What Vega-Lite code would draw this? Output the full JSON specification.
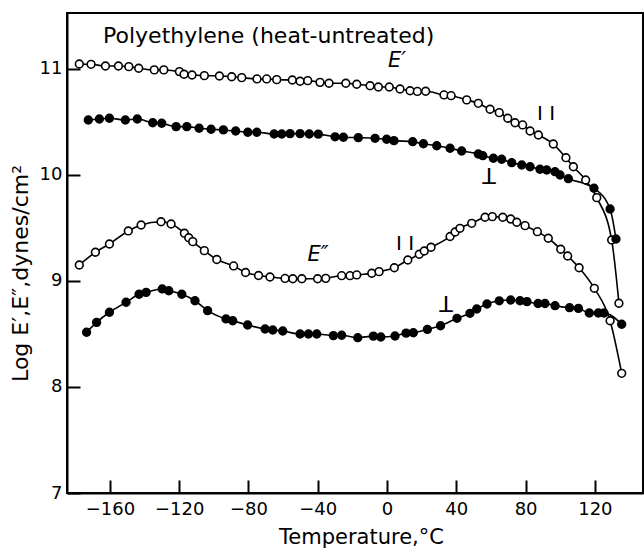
{
  "$schema": "https://vega.github.io/schema/vega-lite/v6.json",
  "width": 576,
  "height": 480,
  "autosize": {"type": "none"},
  "padding": {"left": 67, "top": 13, "right": 1, "bottom": 58},
  "background": "white",
  "config": {
    "font": "DejaVu Sans",
    "view": {"stroke": "black", "strokeWidth": 2},
    "axis": {
      "grid": false,
      "domainColor": "black",
      "domainWidth": 2,
      "tickColor": "black",
      "tickWidth": 2,
      "tickSize": -13,
      "labelColor": "black",
      "labelFontSize": 18,
      "titleColor": "black",
      "titleFontSize": 21,
      "titleFontWeight": "normal"
    }
  },
  "datasets": {
    "modulus": [
      {"curve": "E1 par", "orient": "par", "T": -177.7, "logE": 11.047},
      {"curve": "E1 par", "orient": "par", "T": -170.9, "logE": 11.044},
      {"curve": "E1 par", "orient": "par", "T": -162.6, "logE": 11.028},
      {"curve": "E1 par", "orient": "par", "T": -155.1, "logE": 11.028},
      {"curve": "E1 par", "orient": "par", "T": -149.1, "logE": 11.022},
      {"curve": "E1 par", "orient": "par", "T": -143.4, "logE": 11.007},
      {"curve": "E1 par", "orient": "par", "T": -134.4, "logE": 10.991},
      {"curve": "E1 par", "orient": "par", "T": -128.9, "logE": 10.991},
      {"curve": "E1 par", "orient": "par", "T": -119.9, "logE": 10.975},
      {"curve": "E1 par", "orient": "par", "T": -117.2, "logE": 10.95},
      {"curve": "E1 par", "orient": "par", "T": -112.6, "logE": 10.943},
      {"curve": "E1 par", "orient": "par", "T": -105.5, "logE": 10.937},
      {"curve": "E1 par", "orient": "par", "T": -96.8, "logE": 10.934},
      {"curve": "E1 par", "orient": "par", "T": -89.7, "logE": 10.927},
      {"curve": "E1 par", "orient": "par", "T": -83.9, "logE": 10.918},
      {"curve": "E1 par", "orient": "par", "T": -75.1, "logE": 10.906},
      {"curve": "E1 par", "orient": "par", "T": -69.5, "logE": 10.906},
      {"curve": "E1 par", "orient": "par", "T": -63.7, "logE": 10.899},
      {"curve": "E1 par", "orient": "par", "T": -54.7, "logE": 10.896},
      {"curve": "E1 par", "orient": "par", "T": -50.2, "logE": 10.884},
      {"curve": "E1 par", "orient": "par", "T": -45.8, "logE": 10.89},
      {"curve": "E1 par", "orient": "par", "T": -38.7, "logE": 10.874},
      {"curve": "E1 par", "orient": "par", "T": -33.5, "logE": 10.865},
      {"curve": "E1 par", "orient": "par", "T": -23.8, "logE": 10.865},
      {"curve": "E1 par", "orient": "par", "T": -17.5, "logE": 10.856},
      {"curve": "E1 par", "orient": "par", "T": -9.8, "logE": 10.842},
      {"curve": "E1 par", "orient": "par", "T": -5.0, "logE": 10.83},
      {"curve": "E1 par", "orient": "par", "T": 1.3, "logE": 10.83},
      {"curve": "E1 par", "orient": "par", "T": 7.5, "logE": 10.811},
      {"curve": "E1 par", "orient": "par", "T": 13.3, "logE": 10.795},
      {"curve": "E1 par", "orient": "par", "T": 17.5, "logE": 10.788},
      {"curve": "E1 par", "orient": "par", "T": 22.3, "logE": 10.79},
      {"curve": "E1 par", "orient": "par", "T": 32.9, "logE": 10.755},
      {"curve": "E1 par", "orient": "par", "T": 37.0, "logE": 10.748},
      {"curve": "E1 par", "orient": "par", "T": 46.0, "logE": 10.708},
      {"curve": "E1 par", "orient": "par", "T": 52.7, "logE": 10.676},
      {"curve": "E1 par", "orient": "par", "T": 59.5, "logE": 10.62},
      {"curve": "E1 par", "orient": "par", "T": 64.8, "logE": 10.588},
      {"curve": "E1 par", "orient": "par", "T": 69.7, "logE": 10.535},
      {"curve": "E1 par", "orient": "par", "T": 73.9, "logE": 10.493},
      {"curve": "E1 par", "orient": "par", "T": 78.3, "logE": 10.472},
      {"curve": "E1 par", "orient": "par", "T": 82.6, "logE": 10.415},
      {"curve": "E1 par", "orient": "par", "T": 87.4, "logE": 10.377},
      {"curve": "E1 par", "orient": "par", "T": 96.0, "logE": 10.292},
      {"curve": "E1 par", "orient": "par", "T": 103.3, "logE": 10.163},
      {"curve": "E1 par", "orient": "par", "T": 107.6, "logE": 10.078},
      {"curve": "E1 par", "orient": "par", "T": 114.7, "logE": 9.953},
      {"curve": "E1 par", "orient": "par", "T": 121.1, "logE": 9.786},
      {"curve": "E1 par", "orient": "par", "T": 129.7, "logE": 9.387},
      {"curve": "E1 par", "orient": "par", "T": 133.9, "logE": 8.79},

      {"curve": "E1 perp", "orient": "perp", "T": -172.5, "logE": 10.519},
      {"curve": "E1 perp", "orient": "perp", "T": -166.1, "logE": 10.528},
      {"curve": "E1 perp", "orient": "perp", "T": -160.3, "logE": 10.535},
      {"curve": "E1 perp", "orient": "perp", "T": -151.1, "logE": 10.519},
      {"curve": "E1 perp", "orient": "perp", "T": -144.2, "logE": 10.528},
      {"curve": "E1 perp", "orient": "perp", "T": -135.3, "logE": 10.493},
      {"curve": "E1 perp", "orient": "perp", "T": -130.1, "logE": 10.488},
      {"curve": "E1 perp", "orient": "perp", "T": -121.8, "logE": 10.456},
      {"curve": "E1 perp", "orient": "perp", "T": -115.6, "logE": 10.456},
      {"curve": "E1 perp", "orient": "perp", "T": -108.5, "logE": 10.441},
      {"curve": "E1 perp", "orient": "perp", "T": -101.6, "logE": 10.431},
      {"curve": "E1 perp", "orient": "perp", "T": -94.5, "logE": 10.425},
      {"curve": "E1 perp", "orient": "perp", "T": -87.4, "logE": 10.415},
      {"curve": "E1 perp", "orient": "perp", "T": -80.4, "logE": 10.403},
      {"curve": "E1 perp", "orient": "perp", "T": -75.2, "logE": 10.403},
      {"curve": "E1 perp", "orient": "perp", "T": -65.2, "logE": 10.387},
      {"curve": "E1 perp", "orient": "perp", "T": -60.8, "logE": 10.387},
      {"curve": "E1 perp", "orient": "perp", "T": -56.0, "logE": 10.39},
      {"curve": "E1 perp", "orient": "perp", "T": -50.2, "logE": 10.39},
      {"curve": "E1 perp", "orient": "perp", "T": -44.9, "logE": 10.387},
      {"curve": "E1 perp", "orient": "perp", "T": -39.7, "logE": 10.385},
      {"curve": "E1 perp", "orient": "perp", "T": -30.0, "logE": 10.36},
      {"curve": "E1 perp", "orient": "perp", "T": -25.2, "logE": 10.356},
      {"curve": "E1 perp", "orient": "perp", "T": -16.6, "logE": 10.352},
      {"curve": "E1 perp", "orient": "perp", "T": -6.9, "logE": 10.346},
      {"curve": "E1 perp", "orient": "perp", "T": -0.2, "logE": 10.337},
      {"curve": "E1 perp", "orient": "perp", "T": 4.0, "logE": 10.324},
      {"curve": "E1 perp", "orient": "perp", "T": 14.8, "logE": 10.314},
      {"curve": "E1 perp", "orient": "perp", "T": 21.0, "logE": 10.295},
      {"curve": "E1 perp", "orient": "perp", "T": 28.7, "logE": 10.276},
      {"curve": "E1 perp", "orient": "perp", "T": 36.4, "logE": 10.252},
      {"curve": "E1 perp", "orient": "perp", "T": 43.1, "logE": 10.226},
      {"curve": "E1 perp", "orient": "perp", "T": 52.7, "logE": 10.198},
      {"curve": "E1 perp", "orient": "perp", "T": 55.3, "logE": 10.182},
      {"curve": "E1 perp", "orient": "perp", "T": 61.4, "logE": 10.158},
      {"curve": "E1 perp", "orient": "perp", "T": 66.2, "logE": 10.148},
      {"curve": "E1 perp", "orient": "perp", "T": 72.0, "logE": 10.116},
      {"curve": "E1 perp", "orient": "perp", "T": 77.8, "logE": 10.094},
      {"curve": "E1 perp", "orient": "perp", "T": 82.6, "logE": 10.078},
      {"curve": "E1 perp", "orient": "perp", "T": 88.3, "logE": 10.054},
      {"curve": "E1 perp", "orient": "perp", "T": 92.2, "logE": 10.047},
      {"curve": "E1 perp", "orient": "perp", "T": 97.0, "logE": 10.031},
      {"curve": "E1 perp", "orient": "perp", "T": 99.9, "logE": 10.0},
      {"curve": "E1 perp", "orient": "perp", "T": 104.7, "logE": 9.965},
      {"curve": "E1 perp", "orient": "perp", "T": 119.5, "logE": 9.875},
      {"curve": "E1 perp", "orient": "perp", "T": 128.8, "logE": 9.679},
      {"curve": "E1 perp", "orient": "perp", "T": 132.2, "logE": 9.396},

      {"curve": "E2 par", "orient": "par", "T": -177.7, "logE": 9.151},
      {"curve": "E2 par", "orient": "par", "T": -168.4, "logE": 9.271},
      {"curve": "E2 par", "orient": "par", "T": -160.3, "logE": 9.349},
      {"curve": "E2 par", "orient": "par", "T": -149.4, "logE": 9.472},
      {"curve": "E2 par", "orient": "par", "T": -142.0, "logE": 9.528},
      {"curve": "E2 par", "orient": "par", "T": -130.5, "logE": 9.559},
      {"curve": "E2 par", "orient": "par", "T": -124.7, "logE": 9.538},
      {"curve": "E2 par", "orient": "par", "T": -117.0, "logE": 9.45},
      {"curve": "E2 par", "orient": "par", "T": -114.5, "logE": 9.408},
      {"curve": "E2 par", "orient": "par", "T": -112.2, "logE": 9.371},
      {"curve": "E2 par", "orient": "par", "T": -105.5, "logE": 9.286},
      {"curve": "E2 par", "orient": "par", "T": -98.3, "logE": 9.203},
      {"curve": "E2 par", "orient": "par", "T": -88.6, "logE": 9.142},
      {"curve": "E2 par", "orient": "par", "T": -81.7, "logE": 9.08},
      {"curve": "E2 par", "orient": "par", "T": -74.2, "logE": 9.052},
      {"curve": "E2 par", "orient": "par", "T": -67.6, "logE": 9.038},
      {"curve": "E2 par", "orient": "par", "T": -58.9, "logE": 9.024},
      {"curve": "E2 par", "orient": "par", "T": -54.4, "logE": 9.021},
      {"curve": "E2 par", "orient": "par", "T": -49.2, "logE": 9.021},
      {"curve": "E2 par", "orient": "par", "T": -40.1, "logE": 9.021},
      {"curve": "E2 par", "orient": "par", "T": -35.4, "logE": 9.025},
      {"curve": "E2 par", "orient": "par", "T": -26.2, "logE": 9.05},
      {"curve": "E2 par", "orient": "par", "T": -21.4, "logE": 9.05},
      {"curve": "E2 par", "orient": "par", "T": -17.5, "logE": 9.057},
      {"curve": "E2 par", "orient": "par", "T": -8.8, "logE": 9.073},
      {"curve": "E2 par", "orient": "par", "T": -4.6, "logE": 9.088},
      {"curve": "E2 par", "orient": "par", "T": 4.2, "logE": 9.125},
      {"curve": "E2 par", "orient": "par", "T": 12.0, "logE": 9.198},
      {"curve": "E2 par", "orient": "par", "T": 18.6, "logE": 9.252},
      {"curve": "E2 par", "orient": "par", "T": 21.5, "logE": 9.283},
      {"curve": "E2 par", "orient": "par", "T": 25.4, "logE": 9.318},
      {"curve": "E2 par", "orient": "par", "T": 36.4, "logE": 9.42},
      {"curve": "E2 par", "orient": "par", "T": 39.3, "logE": 9.462},
      {"curve": "E2 par", "orient": "par", "T": 42.1, "logE": 9.497},
      {"curve": "E2 par", "orient": "par", "T": 48.9, "logE": 9.544},
      {"curve": "E2 par", "orient": "par", "T": 56.6, "logE": 9.601},
      {"curve": "E2 par", "orient": "par", "T": 60.8, "logE": 9.607},
      {"curve": "E2 par", "orient": "par", "T": 66.8, "logE": 9.601},
      {"curve": "E2 par", "orient": "par", "T": 71.4, "logE": 9.585},
      {"curve": "E2 par", "orient": "par", "T": 74.9, "logE": 9.554},
      {"curve": "E2 par", "orient": "par", "T": 79.7, "logE": 9.522},
      {"curve": "E2 par", "orient": "par", "T": 86.8, "logE": 9.465},
      {"curve": "E2 par", "orient": "par", "T": 93.1, "logE": 9.403},
      {"curve": "E2 par", "orient": "par", "T": 100.3, "logE": 9.299},
      {"curve": "E2 par", "orient": "par", "T": 104.3, "logE": 9.236},
      {"curve": "E2 par", "orient": "par", "T": 110.9, "logE": 9.125},
      {"curve": "E2 par", "orient": "par", "T": 119.7, "logE": 8.931},
      {"curve": "E2 par", "orient": "par", "T": 128.8, "logE": 8.625},
      {"curve": "E2 par", "orient": "par", "T": 135.5, "logE": 8.129},

      {"curve": "E2 perp", "orient": "perp", "T": -173.5, "logE": 8.516},
      {"curve": "E2 perp", "orient": "perp", "T": -167.7, "logE": 8.61},
      {"curve": "E2 perp", "orient": "perp", "T": -160.3, "logE": 8.705},
      {"curve": "E2 perp", "orient": "perp", "T": -150.7, "logE": 8.799},
      {"curve": "E2 perp", "orient": "perp", "T": -143.2, "logE": 8.875},
      {"curve": "E2 perp", "orient": "perp", "T": -139.1, "logE": 8.893},
      {"curve": "E2 perp", "orient": "perp", "T": -129.8, "logE": 8.925},
      {"curve": "E2 perp", "orient": "perp", "T": -126.0, "logE": 8.908},
      {"curve": "E2 perp", "orient": "perp", "T": -118.5, "logE": 8.875},
      {"curve": "E2 perp", "orient": "perp", "T": -110.9, "logE": 8.814},
      {"curve": "E2 perp", "orient": "perp", "T": -103.6, "logE": 8.72},
      {"curve": "E2 perp", "orient": "perp", "T": -93.0, "logE": 8.642},
      {"curve": "E2 perp", "orient": "perp", "T": -89.1, "logE": 8.625},
      {"curve": "E2 perp", "orient": "perp", "T": -80.5, "logE": 8.585},
      {"curve": "E2 perp", "orient": "perp", "T": -70.4, "logE": 8.547},
      {"curve": "E2 perp", "orient": "perp", "T": -66.0, "logE": 8.538},
      {"curve": "E2 perp", "orient": "perp", "T": -60.2, "logE": 8.528},
      {"curve": "E2 perp", "orient": "perp", "T": -50.2, "logE": 8.5},
      {"curve": "E2 perp", "orient": "perp", "T": -45.4, "logE": 8.5},
      {"curve": "E2 perp", "orient": "perp", "T": -40.6, "logE": 8.5},
      {"curve": "E2 perp", "orient": "perp", "T": -31.0, "logE": 8.485},
      {"curve": "E2 perp", "orient": "perp", "T": -26.2, "logE": 8.488},
      {"curve": "E2 perp", "orient": "perp", "T": -16.9, "logE": 8.465},
      {"curve": "E2 perp", "orient": "perp", "T": -7.9, "logE": 8.48},
      {"curve": "E2 perp", "orient": "perp", "T": -3.6, "logE": 8.472},
      {"curve": "E2 perp", "orient": "perp", "T": 4.6, "logE": 8.481},
      {"curve": "E2 perp", "orient": "perp", "T": 11.0, "logE": 8.508},
      {"curve": "E2 perp", "orient": "perp", "T": 15.2, "logE": 8.512},
      {"curve": "E2 perp", "orient": "perp", "T": 23.3, "logE": 8.544},
      {"curve": "E2 perp", "orient": "perp", "T": 30.9, "logE": 8.578},
      {"curve": "E2 perp", "orient": "perp", "T": 40.4, "logE": 8.648},
      {"curve": "E2 perp", "orient": "perp", "T": 47.9, "logE": 8.695},
      {"curve": "E2 perp", "orient": "perp", "T": 51.8, "logE": 8.736},
      {"curve": "E2 perp", "orient": "perp", "T": 57.7, "logE": 8.783},
      {"curve": "E2 perp", "orient": "perp", "T": 64.8, "logE": 8.813},
      {"curve": "E2 perp", "orient": "perp", "T": 71.4, "logE": 8.821},
      {"curve": "E2 perp", "orient": "perp", "T": 76.8, "logE": 8.814},
      {"curve": "E2 perp", "orient": "perp", "T": 80.8, "logE": 8.805},
      {"curve": "E2 perp", "orient": "perp", "T": 87.2, "logE": 8.788},
      {"curve": "E2 perp", "orient": "perp", "T": 91.2, "logE": 8.788},
      {"curve": "E2 perp", "orient": "perp", "T": 97.0, "logE": 8.767},
      {"curve": "E2 perp", "orient": "perp", "T": 105.4, "logE": 8.748},
      {"curve": "E2 perp", "orient": "perp", "T": 110.5, "logE": 8.742},
      {"curve": "E2 perp", "orient": "perp", "T": 116.8, "logE": 8.698},
      {"curve": "E2 perp", "orient": "perp", "T": 122.0, "logE": 8.698},
      {"curve": "E2 perp", "orient": "perp", "T": 125.3, "logE": 8.698},
      {"curve": "E2 perp", "orient": "perp", "T": 135.5, "logE": 8.592}
    ],
    "curveLabels": [
      {"text": "E′", "T": 5.8, "logE": 11.075},
      {"text": "E″", "T": -39.8, "logE": 9.245}
    ],
    "parallelMarks": [
      {"text": "I I", "T": 91.8, "logE": 10.575},
      {"text": "I I", "T": 10.4, "logE": 9.35}
    ],
    "perpendicularMarks": [
      {"text": "T", "T": 58.9, "logE": 10.0},
      {"text": "T", "T": 34.1, "logE": 8.79}
    ],
    "heading": [
      {"text": "Polyethylene (heat-untreated)", "T": -164, "logE": 11.245}
    ]
  },
  "encoding": {
    "x": {
      "field": "T",
      "type": "quantitative",
      "scale": {"domain": [-184.8, 147.8], "nice": false, "zero": false},
      "axis": {
        "title": "Temperature,°C",
        "values": [-160, -120, -80, -40, 0, 40, 80, 120],
        "labelPadding": 20,
        "titlePadding": 8,
        "titleX": 294
      }
    },
    "y": {
      "field": "logE",
      "type": "quantitative",
      "scale": {"domain": [7, 11.528], "nice": false, "zero": false},
      "axis": {
        "title": "Log E′,E″,dynes/cm²",
        "values": [7, 8, 9, 10, 11],
        "labelPadding": 18,
        "titleFontSize": 22,
        "titleX": -47,
        "titleY": 260,
        "titleBaseline": "middle"
      }
    }
  },
  "layer": [
    {
      "data": {"name": "modulus"},
      "mark": {"type": "line", "interpolate": "monotone", "color": "black", "strokeWidth": 1.6},
      "encoding": {"detail": {"field": "curve"}}
    },
    {
      "data": {"name": "modulus"},
      "mark": {"type": "point", "shape": "circle", "size": 60, "stroke": "black", "strokeWidth": 1.6, "opacity": 1},
      "encoding": {
        "fill": {
          "field": "orient",
          "type": "nominal",
          "scale": {"domain": ["par", "perp"], "range": ["white", "black"]},
          "legend": null
        }
      }
    },
    {
      "data": {"name": "curveLabels"},
      "mark": {"type": "text", "fontSize": 21, "fontStyle": "italic", "color": "black", "align": "center", "baseline": "middle"},
      "encoding": {"text": {"field": "text"}}
    },
    {
      "data": {"name": "parallelMarks"},
      "mark": {"type": "text", "fontSize": 20, "color": "black", "align": "center", "baseline": "middle"},
      "encoding": {"text": {"field": "text"}}
    },
    {
      "data": {"name": "perpendicularMarks"},
      "mark": {"type": "text", "fontSize": 22, "angle": 180, "color": "black", "align": "center", "baseline": "middle"},
      "encoding": {"text": {"field": "text"}}
    },
    {
      "data": {"name": "heading"},
      "mark": {"type": "text", "fontSize": 22, "color": "black", "align": "left", "baseline": "alphabetic"},
      "encoding": {"text": {"field": "text"}}
    }
  ]
}
